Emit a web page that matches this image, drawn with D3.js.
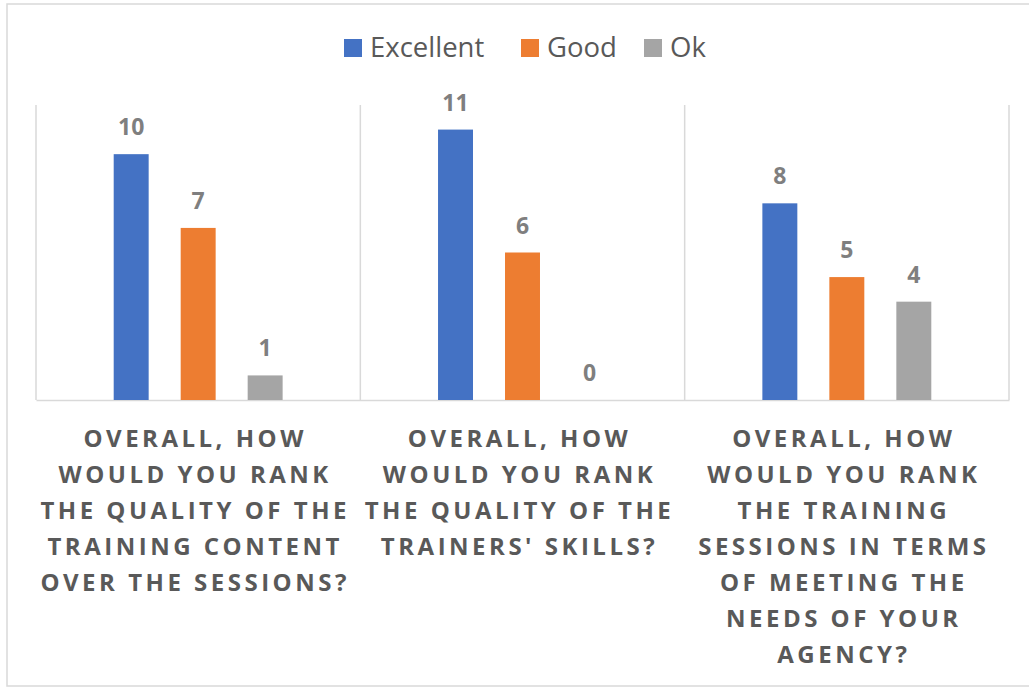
<!DOCTYPE html>
<html>
<head>
<meta charset="utf-8">
<script src="https://cdn.jsdelivr.net/npm/d3@7"></script>
<style>
  html, body { margin: 0; padding: 0; background: #fff; }
  svg { display: block; }
</style>
</head>
<body>
<div id="chart"></div>
<script>
// ---- data ----
const categories = [
  "OVERALL, HOW\nWOULD YOU RANK\nTHE QUALITY OF THE\nTRAINING CONTENT\nOVER THE SESSIONS?",
  "OVERALL, HOW\nWOULD YOU RANK\nTHE QUALITY OF THE\nTRAINERS' SKILLS?",
  "OVERALL, HOW\nWOULD YOU RANK\nTHE TRAINING\nSESSIONS IN TERMS\nOF MEETING THE\nNEEDS OF YOUR\nAGENCY?"
];
const seriesNames = ["Excellent", "Good", "Ok"];
const excellent = [10, 11, 8];
const good = [7, 6, 5];
const ok = [1, 0, 4];
const seriesColors = ["#4472C4", "#ED7D31", "#A5A5A5"];

const seriesValues = [excellent, good, ok];

// ---- layout ----
const W = 1029, H = 687;
const plot = { left: 36, right: 1009, top: 105, bottom: 400 };

const svg = d3.select("#chart").append("svg")
  .attr("width", W).attr("height", H);

// outer chart border
svg.append("rect")
  .attr("x", 7).attr("y", 4)
  .attr("width", W + 10).attr("height", 682)
  .attr("fill", "#fff")
  .attr("stroke", "#d9d9d9").attr("stroke-width", 1.5);

const x0 = d3.scaleBand()
  .domain(d3.range(categories.length))
  .range([plot.left, plot.right])
  .padding(0);

const x1 = d3.scaleBand()
  .domain(seriesNames)
  .range([0, x0.bandwidth()])
  .paddingInner(0.478)
  .paddingOuter(1.16);

const y = d3.scaleLinear().domain([0, 12]).range([plot.bottom, plot.top]);

// vertical category separators
const seps = d3.range(categories.length + 1).map(i =>
  i < categories.length ? x0(i) : x0(categories.length - 1) + x0.bandwidth());
svg.append("g").selectAll("line").data(seps).join("line")
  .attr("x1", d => d).attr("x2", d => d)
  .attr("y1", plot.top).attr("y2", plot.bottom)
  .attr("stroke", "#d9d9d9").attr("stroke-width", 1.5);

// baseline axis
const xAxis = d3.axisBottom(x0).tickSize(0).tickFormat("");
const gx = svg.append("g").attr("transform", `translate(0,${plot.bottom})`).call(xAxis);
gx.select(".domain").attr("stroke", "#d9d9d9").attr("stroke-width", 1.5);

// bars
const rows = [];
categories.forEach((c, i) => {
  seriesNames.forEach((s, j) => {
    rows.push({ cat: i, series: s, value: seriesValues[j][i], color: seriesColors[j] });
  });
});

svg.append("g").selectAll("rect").data(rows).join("rect")
  .attr("x", d => x0(d.cat) + x1(d.series))
  .attr("y", d => y(d.value))
  .attr("width", x1.bandwidth())
  .attr("height", d => y(0) - y(d.value))
  .attr("fill", d => d.color);

// data labels
svg.append("g").selectAll("text").data(rows).join("text")
  .attr("x", d => x0(d.cat) + x1(d.series) + x1.bandwidth() / 2)
  .attr("y", d => y(d.value) - 19)
  .attr("text-anchor", "middle")
  .attr("font-family", "'Open Sans', sans-serif")
  .attr("font-weight", "bold")
  .attr("font-size", 23)
  .attr("fill", "#7f7f7f")
  .text(d => d.value);

// category labels
const catG = svg.append("g");
categories.forEach((c, i) => {
  const t = catG.append("text")
    .attr("text-anchor", "middle")
    .attr("font-family", "'Open Sans', sans-serif")
    .attr("font-weight", "bold")
    .attr("font-size", 24)
    .attr("letter-spacing", 3.5)
    .attr("fill", "#595959");
  c.split("\n").forEach((line, k) => {
    t.append("tspan")
      .attr("x", x0(i) + x0.bandwidth() / 2 - 3)
      .attr("y", 447 + k * 36)
      .text(line);
  });
});

// legend
const legendX = [344, 521, 644];
const lg = svg.append("g");
seriesNames.forEach((s, j) => {
  lg.append("rect")
    .attr("x", legendX[j]).attr("y", 39)
    .attr("width", 18).attr("height", 18)
    .attr("fill", seriesColors[j]);
  lg.append("text")
    .attr("x", legendX[j] + 26).attr("y", 57)
    .attr("font-family", "'Open Sans', sans-serif")
    .attr("font-size", 27.5)
    .attr("fill", "#595959")
    .text(s);
});
</script>
</body>
</html>
